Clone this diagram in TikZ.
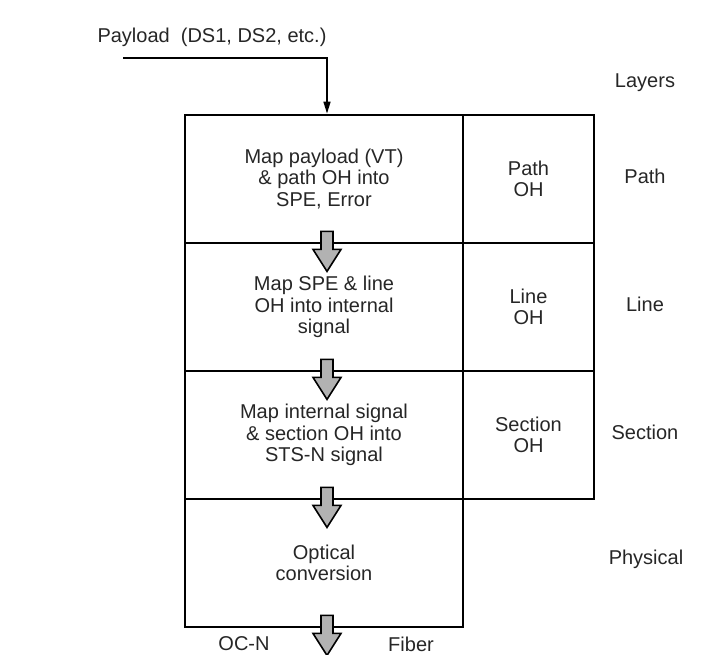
\documentclass[tikz,border=0pt]{standalone}
\usepackage{fontspec}
\setmainfont{Liberation Sans}
\usepackage{tikz}
\usetikzlibrary{arrows.meta}

\begin{document}
\begin{tikzpicture}[
                x=0.5pt, y=-0.5pt,
                font=\fontsize{10pt}{10.8pt}\selectfont,
                text=black!85,
                stage/.style={rectangle, draw, line width=1.4pt, align=center,
                        minimum width=139pt, minimum height=64pt, inner sep=2pt},
                overhead/.style={rectangle, draw, line width=1.4pt, align=center,
                        minimum width=65.5pt, minimum height=64pt, inner sep=2pt},
                layer/.style={align=center, inner sep=0pt},
                feed/.style={-{Triangle[length=6pt, width=3.5pt]}, line width=0.8pt},
                flow/.style={draw, line width=0.8pt, fill=gray!60, line join=miter},
            ]
            \useasboundingbox (0,0) rectangle (727,654);

            % --- input ------------------------------------------------------
            \node[layer] (payload) at (212,37) {Payload\ \ (DS1, DS2, etc.)};
            \coordinate (src) at (123,58);

            % --- processing stages ------------------------------------------
            \node[stage] (pay)  at (324,179) {Map payload (VT)\\\& path OH into\\SPE, Error};
            \node[stage] (line) at (324,307) {Map SPE \& line\\OH into internal\\signal};
            \node[stage] (sect) at (324,435) {Map internal signal\\\& section OH into\\STS-N signal};
            \node[stage] (phys) at (324,563) {Optical\\conversion};

            % --- overhead column --------------------------------------------
            \node[overhead] (path_oh) at (528.5,179) {Path\\OH};
            \node[overhead] (line_oh) at (528.5,307) {Line\\OH};
            \node[overhead] (sect_oh) at (528.5,435) {Section\\OH};

            % --- layer names ------------------------------------------------
            \node[layer] (layers)   at (645,83)  {Layers};
            \node[layer] (l_path)   at (645,176) {Path};
            \node[layer] (l_line)   at (645,304) {Line};
            \node[layer] (l_sect)   at (645,432) {Section};
            \node[layer] (l_phys)   at (646,559) {Physical};

            % --- output -----------------------------------------------------
            \node[layer] (ocn)   at (244,644) {OC-N};
            \node[layer] (fiber) at (411,644) {Fiber};

            % --- routing ----------------------------------------------------
            \draw[feed] (src) -| ([xshift=1.5pt]pay.north);

            \foreach \r in {pay, line, sect, phys}
                \draw[flow] (\r.south) ++(-3,-13) -- ++(12,0) -- ++(0,18) -- ++(8,0)
                    -- ++(-14,22) -- ++(-14,-22) -- ++(8,0) -- cycle;
        \end{tikzpicture}
\end{document}
